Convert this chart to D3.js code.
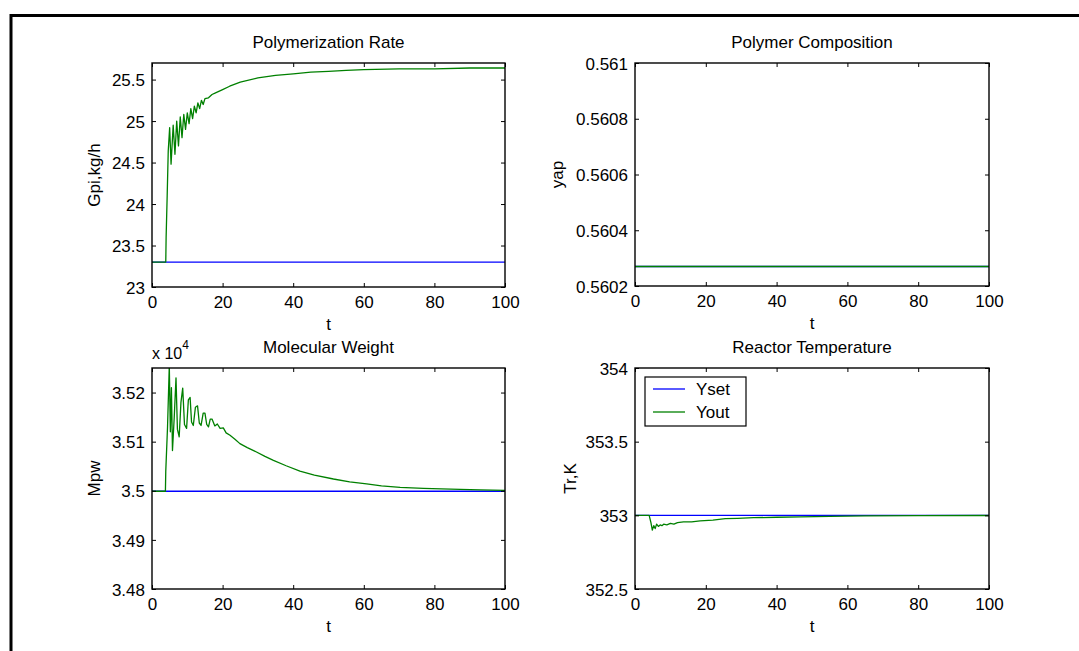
<!DOCTYPE html>
<html>
<head>
<meta charset="utf-8">
<script src="https://cdn.jsdelivr.net/npm/d3@7"></script>
<style>
  body { margin: 0; background: #fff; }
  svg { display: block; font-family: Arial, 'Liberation Sans', Helvetica, sans-serif; }
  .axis text { font-size: 17px; fill: #000; }
  .axis line { stroke: #000; }
  .lbl { font-size: 17px; fill: #000; }
</style>
</head>
<body>
<svg id="chart"></svg>
<script>
// time axis
const tTicks = [0, 20, 40, 60, 80, 100];
const tSet = [0, 100];

// Polymerization Rate, Gpi kg/h
const gpiTicks = [23, 23.5, 24, 24.5, 25, 25.5];
const gpiSet = [23.3, 23.3];
const gpiTime = [0, 3.9, 4.0, 4.3, 4.6, 5.0, 5.4, 6.0, 6.5, 7.0,
  7.5, 8.0, 8.5, 9.0, 9.5, 10, 10.5, 11, 11.5, 12,
  12.5, 13, 13.5, 14, 14.5, 15, 16, 17, 18, 20,
  22, 25, 30, 35, 40, 45, 50, 55, 60, 70,
  80, 90, 100];
const gpiOut = [23.3, 23.3, 23.6, 24.1, 24.64, 24.92, 24.48, 24.95, 24.6, 25.0,
  24.7, 25.05, 24.8, 25.08, 24.9, 25.1, 24.97, 25.15, 25.03, 25.18,
  25.1, 25.22, 25.15, 25.25, 25.2, 25.27, 25.28, 25.32, 25.34, 25.38,
  25.42, 25.47, 25.52, 25.55, 25.57, 25.59, 25.6, 25.61, 25.62, 25.63,
  25.63, 25.64, 25.64];

// Polymer Composition, yap
const yapTicks = [0.5602, 0.5604, 0.5606, 0.5608, 0.561];
const yapSet = [0.56027, 0.56027];
const yapOut = [0.56027, 0.56027];

// Molecular Weight, Mpw (x 10^4)
const mpwTicks = [3.48, 3.49, 3.5, 3.51, 3.52];
const mpwSet = [3.4999, 3.4999];
const mpwTime = [0, 3.8, 3.9, 4.4, 4.9, 5.2, 5.5, 5.8, 6.3, 6.8,
  7.2, 7.7, 8.2, 8.7, 9.2, 9.8, 10.3, 10.8, 11.2, 11.7,
  12.3, 12.9, 13.4, 13.9, 14.5, 15.0, 15.5, 16.0, 16.5, 17.0,
  17.8, 18.5, 19.3, 20.2, 21, 22.1, 23.5, 24.9, 27, 29.6,
  32, 34.4, 38, 41.9, 46, 51.4, 56, 60.8, 65, 70.3,
  76.9, 82, 87.3, 93, 100];
const mpwOut = [3.4999, 3.4999, 3.504, 3.513, 3.5255, 3.512, 3.521, 3.5082, 3.515, 3.523,
  3.5125, 3.511, 3.518, 3.5209, 3.5135, 3.5127, 3.5185, 3.519, 3.514, 3.5133,
  3.517, 3.5173, 3.5138, 3.5133, 3.5158, 3.5158, 3.5135, 3.513, 3.5146, 3.5146,
  3.5132, 3.5136, 3.5127, 3.5128, 3.5118, 3.5113, 3.5105, 3.5096, 3.5088, 3.5079,
  3.507, 3.5062, 3.5051, 3.504, 3.5032, 3.5024, 3.5018, 3.5014, 3.501, 3.5007,
  3.5005, 3.5004, 3.5003, 3.5002, 3.5001];

// Reactor Temperature, Tr K
const trTicks = [352.5, 353, 353.5, 354];
const trSet = [353, 353];
const trTime = [0, 4.0, 4.5, 4.9, 5.3, 5.7, 6.1, 6.6, 7.1, 7.6,
  8.1, 9.0, 10, 11, 12, 13.7, 16, 18.4, 22, 25.5,
  29, 33.5, 40, 46.7, 55, 65, 80, 100];
const trOut = [353.0, 353.0, 352.95, 352.9, 352.93, 352.91, 352.94, 352.925, 352.935, 352.93,
  352.94, 352.935, 352.945, 352.94, 352.95, 352.955, 352.955, 352.962, 352.968, 352.977,
  352.98, 352.984, 352.987, 352.99, 352.993, 352.996, 352.998, 352.999];

const legendNames = ['Yset', 'Yout'];
const setColor = '#0000ff';
const outColor = '#008000';

const width = 1079, height = 651;

const svg = d3.select('#chart')
  .attr('width', width)
  .attr('height', height);

// page frame
svg.append('path')
  .attr('d', 'M11,' + height + 'V15.5H' + width)
  .attr('fill', 'none')
  .attr('stroke', '#000')
  .attr('stroke-width', 3);

const fmt = d3.format('~g');

function drawPanel(p) {
  const w = p.x1 - p.x0, h = p.y1 - p.y0;
  const x = d3.scaleLinear().domain([0, 100]).range([0, w]);
  const y = d3.scaleLinear().domain(p.yDomain).range([h, 0]);

  const g = svg.append('g')
    .attr('transform', 'translate(' + p.x0 + ', ' + p.y0 + ')');

  g.append('rect')
    .attr('width', w).attr('height', h)
    .attr('fill', '#fff');

  g.append('clipPath').attr('id', p.id + '-clip')
    .append('rect').attr('width', w).attr('height', h);

  const line = d3.line()
    .x(function(d) { return x(d[0]); })
    .y(function(d) { return y(d[1]); });

  const lines = g.append('g').attr('clip-path', 'url(#' + p.id + '-clip)');
  lines.append('path')
    .datum(d3.zip(tSet, p.set))
    .attr('d', line)
    .attr('fill', 'none')
    .attr('stroke', setColor)
    .attr('stroke-width', 1.3);
  lines.append('path')
    .datum(d3.zip(p.time, p.out))
    .attr('d', line)
    .attr('fill', 'none')
    .attr('stroke', outColor)
    .attr('stroke-width', 1.3)
    .attr('stroke-linejoin', 'round');

  g.append('g')
    .attr('class', 'x axis')
    .attr('transform', 'translate(0, ' + h + ')')
    .call(d3.axisBottom(x).tickValues(tTicks).tickSizeInner(-4).tickSizeOuter(0).tickPadding(9));
  g.append('g')
    .attr('class', 'x axis')
    .call(d3.axisTop(x).tickValues(tTicks).tickSizeInner(-4).tickSizeOuter(0).tickFormat(''));
  g.append('g')
    .attr('class', 'y axis')
    .call(d3.axisLeft(y).tickValues(p.ticks).tickSizeInner(-4).tickSizeOuter(0).tickPadding(7).tickFormat(fmt));
  g.append('g')
    .attr('class', 'y axis')
    .attr('transform', 'translate(' + w + ', 0)')
    .call(d3.axisRight(y).tickValues(p.ticks).tickSizeInner(-4).tickSizeOuter(0).tickFormat(''));
  g.selectAll('.axis .domain').remove();
  g.selectAll('.axis text').attr('dy', null);
  g.selectAll('.x.axis text').attr('dy', '0.72em');
  g.selectAll('.y.axis text').attr('dy', '0.36em');

  g.append('rect')
    .attr('width', w).attr('height', h)
    .attr('fill', 'none')
    .attr('stroke', '#000')
    .attr('stroke-width', 1.4);

  g.append('text')
    .attr('class', 'lbl')
    .attr('x', w / 2).attr('y', -15)
    .attr('text-anchor', 'middle')
    .text(p.title);

  g.append('text')
    .attr('class', 'lbl')
    .attr('x', w / 2).attr('y', h + 43)
    .attr('text-anchor', 'middle')
    .text('t');

  g.append('text')
    .attr('class', 'lbl')
    .attr('transform', 'translate(' + p.yLabelX + ', ' + (h / 2) + ') rotate(-90)')
    .attr('text-anchor', 'middle')
    .text(p.yLabel);

  return g;
}

drawPanel({
  id: 'gpi', x0: 152, x1: 505, y0: 63, y1: 287,
  yDomain: [23, 25.7], ticks: gpiTicks,
  set: gpiSet, time: gpiTime, out: gpiOut,
  title: 'Polymerization Rate', yLabel: 'Gpi,kg/h', yLabelX: -52
});

drawPanel({
  id: 'yap', x0: 635, x1: 989, y0: 63, y1: 286,
  yDomain: [0.5602, 0.561], ticks: yapTicks,
  set: yapSet, time: tSet, out: yapOut,
  title: 'Polymer Composition', yLabel: 'yap', yLabelX: -72
});

const mpw = drawPanel({
  id: 'mpw', x0: 152, x1: 505, y0: 368, y1: 589,
  yDomain: [3.48, 3.525], ticks: mpwTicks,
  set: mpwSet, time: mpwTime, out: mpwOut,
  title: 'Molecular Weight', yLabel: 'Mpw', yLabelX: -52
});

// exponent label
const expo = mpw.append('text')
  .attr('class', 'lbl')
  .attr('x', 0).attr('y', -9)
  .style('font-size', '16px');
expo.append('tspan').text('x 10');
expo.append('tspan')
  .attr('dy', -10)
  .style('font-size', '12px')
  .text('4');

const tr = drawPanel({
  id: 'tr', x0: 635, x1: 989, y0: 368, y1: 589,
  yDomain: [352.5, 354], ticks: trTicks,
  set: trSet, time: trTime, out: trOut,
  title: 'Reactor Temperature', yLabel: 'Tr,K', yLabelX: -59
});

// legend
const legend = tr.append('g')
  .attr('transform', 'translate(10, 9)');
legend.append('rect')
  .attr('width', 101).attr('height', 49)
  .attr('fill', '#fff')
  .attr('stroke', '#000')
  .attr('stroke-width', 1.2);
legend.selectAll('.item')
  .data(legendNames)
  .enter()
  .append('g')
  .attr('class', 'item')
  .attr('transform', function(d, i) { return 'translate(0, ' + (12 + i * 23) + ')'; })
  .each(function(d, i) {
    const item = d3.select(this);
    item.append('line')
      .attr('x1', 8).attr('x2', 40)
      .attr('stroke', i === 0 ? setColor : outColor)
      .attr('stroke-width', 1.3);
    item.append('text')
      .attr('class', 'lbl')
      .attr('x', 51).attr('dy', '0.36em')
      .text(d);
  });
</script>
</body>
</html>
